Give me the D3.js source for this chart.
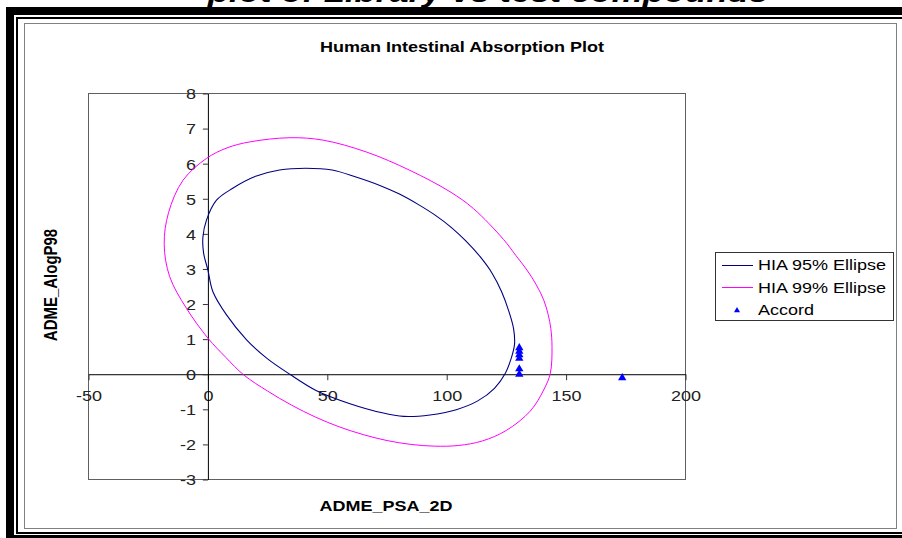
<html>
<head>
<title>Human Intestinal Absorption Plot</title>
<style>
	body{margin:0;padding:0;background:white;overflow:hidden;}
	svg{display:block;}
	text{font-family:Arial,"Liberation Sans",sans-serif;}
</style>
<script src="https://d3js.org/d3.v7.min.js"></script>
</head>
<body>
<svg id="chart" width="902" height="538"></svg>
<script>
// tick values
var xTicks=[-50,0,50,100,150,200];
var yTicks=[-3,-2,-1,0,1,2,3,4,5,6,7,8];

// ellipse outlines, [ADME_PSA_2D, ADME_AlogP98]
var ellipse95=[[-0.6,4.39],[3.6,4.96],[10.4,5.30],[20,5.64],[30,5.82],[41,5.87],[52,5.82],[62,5.62],[72,5.38],[80,5.14],
	[88,4.84],[95,4.54],[102,4.18],[108,3.80],[114,3.35],[119,2.88],[123,2.35],[126,1.80],[128,1.30],[128.4,0.85],
	[127,0.45],[124.5,0.02],[120,-0.40],[113,-0.76],[104,-1.01],[93,-1.16],[82,-1.20],[73,-1.10],[59.5,-0.84],
	[45.5,-0.47],[34.3,0],[24.6,0.46],[16.2,0.98],[7.8,1.69],[2.1,2.35],[0,2.97],[-1.8,3.45],[-2.1,3.90]];
var ellipse99=[[-0.6,6.15],[8,6.45],[17.5,6.62],[34.3,6.74],[48.3,6.67],[66.5,6.33],[84.6,5.81],[101.4,5.20],
	[111.2,4.72],[123.8,3.84],[129,3.38],[133.6,2.97],[137.5,2.55],[140.6,2.12],[142.5,1.70],[143.6,1.30],
	[144.1,0.79],[143.4,0.03],[140.6,-0.45],[135,-1.05],[125,-1.60],[115,-1.90],[105,-2.03],[95,-2.05],[85,-2.00],
	[75,-1.89],[65,-1.72],[55,-1.50],[45,-1.22],[35,-0.88],[25,-0.48],[15,-0.02],[7.5,0.48],[0,1.03],[-9,1.88],
	[-16,2.78],[-18.3,3.70],[-16.5,4.60],[-10.4,5.53]];
// Accord compounds
var accord=[[130.4,0.75],[130.4,0.65],[130.4,0.55],[130.4,0.45],[130.4,0.15],[130.4,0.0],[173.5,-0.1]];
var seriesNames=["HIA 95% Ellipse","HIA 99% Ellipse","Accord"];
var seriesColors=["#000080","#ff00ff","#0000ff"];

var sx=1.2; // the whole picture is stretched sideways
var svg=d3.select("#chart");

// frame round the picture
svg.append("rect").attr("x",6).attr("y",7).attr("width",1000).attr("height",531).attr("fill","black");
svg.append("rect").attr("x",14).attr("y",15).attr("width",1000).attr("height",520).attr("fill","white");
svg.append("rect").attr("x",16).attr("y",17).attr("width",1000).attr("height",517).attr("fill","black");
svg.append("rect").attr("x",18).attr("y",19).attr("width",1000).attr("height",513).attr("fill","white");
svg.append("rect").attr("x",24.5).attr("y",23.5).attr("width",872).attr("height",505)
	.attr("fill","white").attr("stroke","#808080");

// heading, cut off at the top of the picture
svg.append("text").attr("transform","translate(488,1.5) scale("+sx+",1)")
	.attr("text-anchor","middle").style("font-size","29px").style("font-weight","bold").style("font-style","italic")
	.text("plot of Library vs test compounds");
// black band over the heading's lower part
svg.append("rect").attr("x",6).attr("y",7).attr("width",1000).attr("height",8).attr("fill","black");

function stretchedText(x,y,str,size,bold,anchor){
	return svg.append("text").attr("transform","translate("+x+","+y+") scale("+sx+",1)")
		.attr("text-anchor",anchor||"middle").style("font-size",size+"px")
		.style("font-weight",bold?"bold":"normal").attr("fill","black").text(str);
}

stretchedText(462,52,"Human Intestinal Absorption Plot",15,true);
stretchedText(386,511,"ADME_PSA_2D",15,true);
svg.append("text").attr("transform","translate(57,285) scale("+sx+",1) rotate(-90)")
	.attr("text-anchor","middle").style("font-size","15px").style("font-weight","bold").text("ADME_AlogP98");

// plot area
var x=d3.scaleLinear().domain([-50,200]).range([88.5,685.5]);
var y=d3.scaleLinear().domain([-3,8]).range([479.5,93.5]);
svg.append("rect").attr("x",88.5).attr("y",93.5).attr("width",597).attr("height",386)
	.attr("fill","white").attr("stroke","#606060");

//axes cross at zero
var xAxis=svg.append("g").attr("transform","translate(0,"+y(0)+")")
	.call(d3.axisBottom(x).tickValues(xTicks).tickSize(6).tickSizeOuter(0).tickFormat(d3.format("d")));
xAxis.select(".domain").attr("stroke","black");
xAxis.selectAll(".tick line").attr("stroke","#333");
xAxis.selectAll("text").attr("y",27).attr("dy",0).attr("transform","scale("+sx+",1)")
	.style("font-size","15px").attr("fill","#222");

var yAxis=svg.append("g").attr("transform","translate("+x(0)+",0)")
	.call(d3.axisLeft(y).tickValues(yTicks).tickSize(5).tickSizeOuter(0).tickFormat(d3.format("d")));
yAxis.select(".domain").attr("stroke","black");
yAxis.selectAll(".tick line").attr("stroke","#333");
yAxis.selectAll("text").attr("x",-10).attr("dy","0.36em").attr("transform","scale("+sx+",1)")
	.style("font-size","15px").attr("fill","#222");
svg.selectAll(".tick text").text(function(d){return d<0?"-"+Math.abs(d):d;});

var line=d3.line().x(function(d){return x(d[0]);}).y(function(d){return y(d[1]);})
	.curve(d3.curveCatmullRomClosed.alpha(0.5));
svg.append("path").datum(ellipse95).attr("d",line).attr("fill","none").attr("stroke",seriesColors[0]).attr("stroke-width",1.1);
svg.append("path").datum(ellipse99).attr("d",line).attr("fill","none").attr("stroke",seriesColors[1]).attr("stroke-width",1);

var tri=d3.symbol().type(d3.symbolTriangle).size(30);
svg.selectAll(".accord").data(accord).enter().append("path").attr("class","accord")
	.attr("transform",function(d){return "translate("+x(d[0])+","+y(d[1])+")";})
	.attr("d",tri).attr("fill",seriesColors[2]);

// legend
var legend=svg.append("g");
legend.append("rect").attr("x",715.5).attr("y",252.5).attr("width",178).attr("height",68)
	.attr("fill","white").attr("stroke","#333");
seriesNames.forEach(function(name,i){
	var ly=265+i*22.5;
	if(i<2){
		var lineY=Math.floor(ly)+0.5;
		legend.append("line").attr("x1",722).attr("x2",753).attr("y1",lineY).attr("y2",lineY)
			.attr("stroke",seriesColors[i]).attr("stroke-width",1);
	}else{
		legend.append("path").attr("transform","translate(737,"+(ly+0.5)+")")
			.attr("d",d3.symbol().type(d3.symbolTriangle).size(16)).attr("fill",seriesColors[i]);
	}
	legend.append("text").attr("transform","translate(758,"+(ly+5)+") scale("+sx+",1)")
		.style("font-size","15px").attr("fill","black").text(name);
});
</script>
</body>
</html>
